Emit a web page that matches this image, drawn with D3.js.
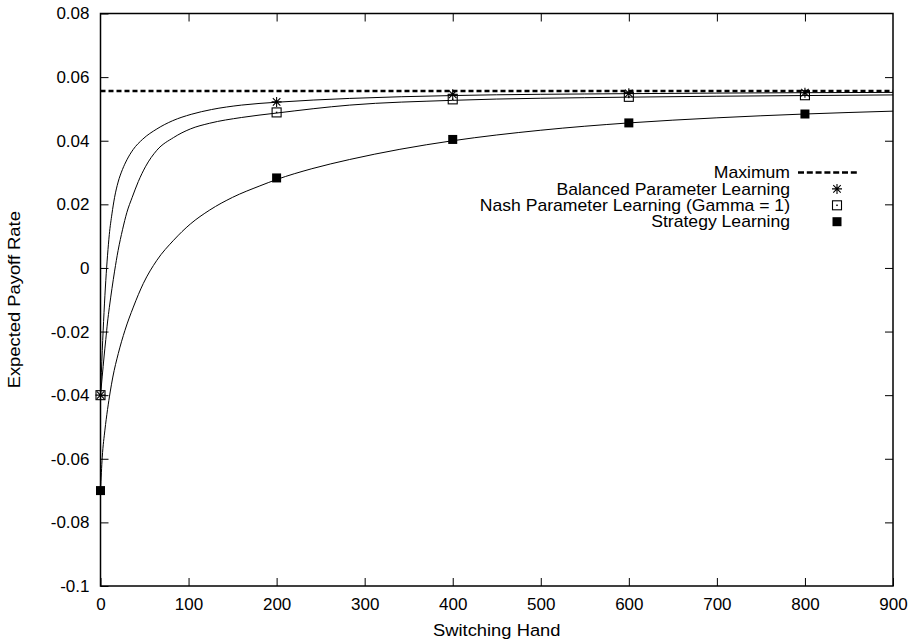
<!DOCTYPE html>
<html>
<head>
<meta charset="utf-8">
<script src="https://cdn.jsdelivr.net/npm/d3@7"></script>
<style>
  body { margin: 0; background: #fff; }
  text { font-family: "Liberation Sans", Arial, Helvetica, sans-serif; font-size: 17px; fill: #000; }
</style>
</head>
<body>
<svg id="chart" width="917" height="642"></svg>
<script>
// measured points (switching hand -> expected payoff rate)
const hands = [0, 200, 400, 600, 800];
const balancedPts = [-0.04, 0.0522, 0.0546, 0.0549, 0.0551];
const nashPts = [-0.04, 0.0489, 0.053, 0.0538, 0.0543];
const strategyPts = [-0.07, 0.0283, 0.0404, 0.0456, 0.0484];
const maximum = 0.0556;

// fitted curves
const balancedCurve = [
  [0, -0.04], [2, -0.026], [4, -0.014], [6, -0.004], [8, 0.004],
  [10, 0.0105], [13, 0.017], [16, 0.0222], [20, 0.027], [25, 0.031],
  [30, 0.034], [37, 0.0372], [48, 0.0405], [64, 0.0437], [82, 0.0463],
  [103, 0.0483], [126, 0.0498], [160, 0.0512], [200, 0.0521], [283, 0.0533],
  [400, 0.0542], [600, 0.0548], [800, 0.0551], [900, 0.0552],
];
const nashCurve = [
  [0, -0.04], [2, -0.034], [4, -0.028], [6, -0.0225], [8, -0.017],
  [10, -0.0125], [13, -0.0065], [16, -0.001], [20, 0.0055], [25, 0.012],
  [30, 0.0175], [36, 0.0222], [43, 0.0272], [51, 0.0318], [64, 0.037],
  [83, 0.041], [102, 0.0437], [124, 0.0455], [160, 0.0473], [200, 0.0487],
  [283, 0.0512], [400, 0.0527], [600, 0.0537], [800, 0.0542], [900, 0.0544],
];
const strategyCurve = [
  [0, -0.07], [2, -0.0595], [5, -0.051], [8, -0.0445], [11, -0.039],
  [14, -0.0343], [20.2, -0.0269], [27.8, -0.0196], [37.3, -0.0123],
  [48.6, -0.0049], [64, 0.0024], [83, 0.0087], [102, 0.0138], [124, 0.0182],
  [150, 0.0222], [181, 0.0258], [200, 0.0278], [240, 0.0312], [283, 0.0341],
  [340, 0.0373], [400, 0.04], [500, 0.0433], [600, 0.0456], [700, 0.0472],
  [800, 0.0484], [900, 0.0493],
];

const xTicks = [0, 100, 200, 300, 400, 500, 600, 700, 800, 900];
const yTicks = [-0.1, -0.08, -0.06, -0.04, -0.02, 0, 0.02, 0.04, 0.06, 0.08];
const legendLabels = [
  "Maximum",
  "Balanced Parameter Learning",
  "Nash Parameter Learning (Gamma = 1)",
  "Strategy Learning",
];

const margin = { top: 13.5, right: 24, bottom: 56, left: 100.5 };
const width = 917 - margin.left - margin.right;
const height = 642 - margin.top - margin.bottom;

const svg = d3.select("#chart");
const g = svg.append("g").attr("transform", `translate(${margin.left},${margin.top})`);

const x = d3.scaleLinear().domain([0, 900]).range([0, width]);
const y = d3.scaleLinear().domain([-0.1, 0.08]).range([height, 0]);

const yFmt = (d) => (d === 0 ? "0" : String(+d.toFixed(2)));

// axes, ticks pointing inward and mirrored
g.append("g")
  .attr("transform", `translate(0,${height})`)
  .call(d3.axisBottom(x).tickValues(xTicks).tickSizeInner(-8).tickSizeOuter(0).tickPadding(12))
  .call((a) => a.select(".domain").remove());
g.append("g")
  .call(d3.axisTop(x).tickValues(xTicks.slice(1, -1)).tickSizeInner(-8).tickSizeOuter(0).tickFormat(""))
  .call((a) => a.select(".domain").remove());
g.append("g")
  .call(d3.axisLeft(y).tickValues(yTicks).tickSizeInner(-8).tickSizeOuter(0).tickPadding(11).tickFormat(yFmt))
  .call((a) => a.select(".domain").remove());
g.append("g")
  .attr("transform", `translate(${width},0)`)
  .call(d3.axisRight(y).tickValues(yTicks.slice(1, -1)).tickSizeInner(-8).tickSizeOuter(0).tickFormat(""))
  .call((a) => a.select(".domain").remove());

g.selectAll(".tick line").attr("stroke", "#000").attr("stroke-width", 1);
g.selectAll(".tick text").style("font-size", "17px").attr("fill", "#000");

g.append("rect")
  .attr("width", width)
  .attr("height", height)
  .attr("fill", "none")
  .attr("stroke", "#000")
  .attr("stroke-width", 1.5);

// axis titles (slightly wide lettering, as in the original)
svg.append("text")
  .attr("transform", `translate(${margin.left + width / 2},636) scale(1.08,1)`)
  .attr("text-anchor", "middle")
  .text("Switching Hand");
svg.append("text")
  .attr("transform", `translate(20,${margin.top + height / 2}) rotate(-90) scale(1.08,1)`)
  .attr("text-anchor", "middle")
  .text("Expected Payoff Rate");

const plot = g.append("g");

// maximum line
plot.append("line")
  .attr("x1", x(0))
  .attr("x2", x(900))
  .attr("y1", y(maximum))
  .attr("y2", y(maximum))
  .attr("stroke", "#000")
  .attr("stroke-width", 2.5)
  .attr("stroke-dasharray", "5,3");

const line = d3.line()
  .x((d) => x(d[0]))
  .y((d) => y(d[1]))
  .curve(d3.curveMonotoneX);

[balancedCurve, nashCurve, strategyCurve].forEach((c) => {
  plot.append("path")
    .attr("d", line(c))
    .attr("fill", "none")
    .attr("stroke", "#000")
    .attr("stroke-width", 1);
});

// marker helpers
const starPath = (cx, cy, r) =>
  `M${cx - r},${cy}H${cx + r}M${cx},${cy - r}V${cy + r}` +
  `M${cx - r * 0.75},${cy - r * 0.75}L${cx + r * 0.75},${cy + r * 0.75}` +
  `M${cx - r * 0.75},${cy + r * 0.75}L${cx + r * 0.75},${cy - r * 0.75}`;

function drawStar(sel, cx, cy) {
  sel.append("path")
    .attr("d", starPath(cx, cy, 5))
    .attr("stroke", "#000")
    .attr("stroke-width", 1.1)
    .attr("fill", "none");
}
function drawOpenBox(sel, cx, cy) {
  sel.append("rect")
    .attr("x", cx - 4.5).attr("y", cy - 4.5)
    .attr("width", 9).attr("height", 9)
    .attr("fill", "none").attr("stroke", "#000").attr("stroke-width", 1.1);
  sel.append("rect")
    .attr("x", cx - 0.75).attr("y", cy - 0.75)
    .attr("width", 1.5).attr("height", 1.5)
    .attr("fill", "#000");
}
function drawFilledBox(sel, cx, cy) {
  sel.append("rect")
    .attr("x", cx - 4.5).attr("y", cy - 4.5)
    .attr("width", 9).attr("height", 9)
    .attr("fill", "#000");
}

hands.forEach((h, i) => {
  drawStar(plot, x(h), y(balancedPts[i]));
  drawOpenBox(plot, x(h), y(nashPts[i]));
  drawFilledBox(plot, x(h), y(strategyPts[i]));
});

// legend
const legend = svg.append("g");
const legX = 790, legY = 172.5, legStep = 16.4;
legendLabels.forEach((lab, i) => {
  legend.append("text")
    .attr("transform", `translate(${legX},${legY + i * legStep}) scale(1.1,1)`)
    .attr("dy", "0.36em")
    .attr("text-anchor", "end")
    .style("font-size", "16px")
    .text(lab);
});
legend.append("line")
  .attr("x1", 798).attr("x2", 857)
  .attr("y1", legY).attr("y2", legY)
  .attr("stroke", "#000")
  .attr("stroke-width", 2.5)
  .attr("stroke-dasharray", "6,2.8");
drawStar(legend, 837, legY + legStep);
drawOpenBox(legend, 837, legY + 2 * legStep);
drawFilledBox(legend, 837, legY + 3 * legStep);
</script>
</body>
</html>
